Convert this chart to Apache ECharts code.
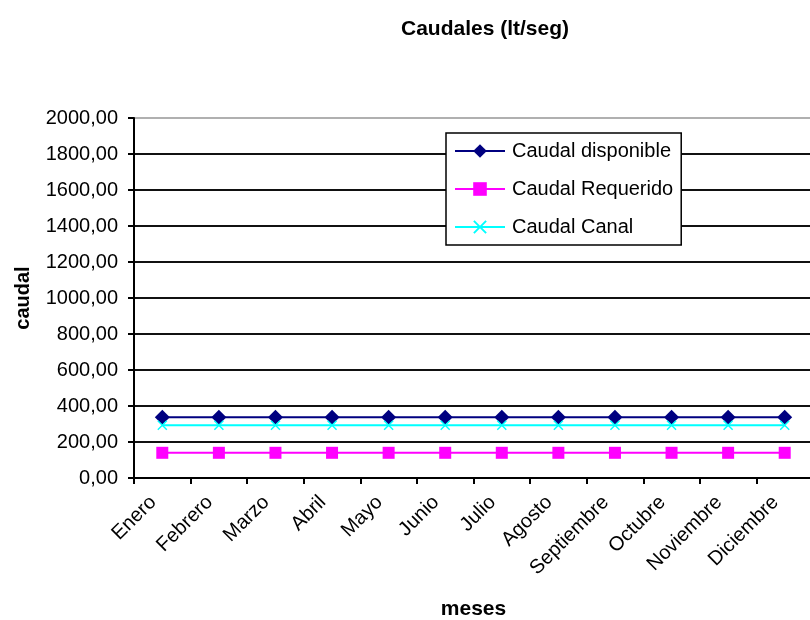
<!DOCTYPE html>
<html>
<head>
<meta charset="utf-8">
<script src="https://cdn.jsdelivr.net/npm/echarts@6/dist/echarts.min.js"></script>
<style>
  html, body { margin: 0; padding: 0; background: #fff; }
  #chart { width: 810px; height: 620px; }
</style>
</head>
<body>
<div id="chart"></div>
<script>
// Months on the category axis
const meses = ['Enero', 'Febrero', 'Marzo', 'Abril', 'Mayo', 'Junio', 'Julio',
  'Agosto', 'Septiembre', 'Octubre', 'Noviembre', 'Diciembre'];

// Flow values (lt/seg) per month
const caudalDisponible = [338, 338, 338, 338, 338, 338, 338, 338, 338, 338, 338, 338];
const caudalRequerido = [140, 140, 140, 140, 140, 140, 140, 140, 140, 140, 140, 140];
const caudalCanal = [293, 293, 293, 293, 293, 293, 293, 293, 293, 293, 293, 293];

// Value axis range
const yMin = 0;
const yMax = 2000;
const yStep = 200;

const FONT = '"Liberation Sans", Arial, sans-serif';
const crossSymbol = 'path://M0,1 L1,0 L5,4 L9,0 L10,1 L6,5 L10,9 L9,10 L5,6 L1,10 L0,9 L4,5 Z';

// one colour per horizontal grid line; the top border is a light grey line
const gridColors = [];
for (let v = yMin; v <= yMax; v += yStep) gridColors.push(v === yMax ? '#b0b0b0' : '#111');

const fmt = v => v.toFixed(2).replace('.', ',');

const chart = echarts.init(document.getElementById('chart'), null, { renderer: 'canvas' });
chart.setOption({
  backgroundColor: '#fff',
  animation: false,
  title: {
    text: 'Caudales (lt/seg)',
    left: 480,
    textAlign: 'center',
    top: 14,
    textStyle: { fontFamily: FONT, fontSize: 21, fontWeight: 'bold', color: '#000' }
  },
  legend: {
    orient: 'vertical',
    left: 446,
    top: 133,
    backgroundColor: '#fff',
    borderColor: '#000',
    borderWidth: 1.5,
    padding: [8, 8, 8, 8],
    itemWidth: 50,
    itemHeight: 17,
    itemGap: 18,
    textStyle: { fontFamily: FONT, fontSize: 20, color: '#000', padding: [0, 0, 0, 2] },
    data: ['Caudal disponible', 'Caudal Requerido', 'Caudal Canal']
  },
  grid: {
    left: 134, right: -3, top: 118, bottom: 142,
    containLabel: false,
    outerBoundsMode: 'none'
  },
  xAxis: {
    type: 'category',
    data: meses,
    boundaryGap: true,
    name: 'meses',
    nameLocation: 'middle',
    nameGap: 121,
    nameTextStyle: { fontFamily: FONT, fontSize: 21, fontWeight: 'bold', color: '#000' },
    axisLine: { lineStyle: { color: '#000', width: 2 } },
    axisTick: { show: true, alignWithLabel: false, length: 6, lineStyle: { color: '#000', width: 2 } },
    axisLabel: {
      rotate: 45, margin: 12, padding: [0, 13, 0, 0],
      fontFamily: FONT, fontSize: 20, color: '#000', interval: 0
    },
    splitLine: { show: false }
  },
  yAxis: {
    type: 'value',
    min: yMin,
    max: yMax,
    interval: yStep,
    name: 'caudal',
    nameLocation: 'middle',
    nameGap: 101,
    nameRotate: 90,
    nameTextStyle: { fontFamily: FONT, fontSize: 20, fontWeight: 'bold', color: '#000' },
    axisLine: { show: true, lineStyle: { color: '#000', width: 2 } },
    axisTick: { show: true, length: 6, lineStyle: { color: '#000', width: 2 } },
    axisLabel: { formatter: fmt, margin: 16, fontFamily: FONT, fontSize: 20, color: '#000' },
    splitLine: { show: true, lineStyle: { color: gridColors, width: 2 } }
  },
  series: [
    {
      name: 'Caudal disponible',
      type: 'line',
      data: caudalDisponible,
      symbol: 'diamond',
      symbolSize: 15,
      itemStyle: { color: '#000080' },
      lineStyle: { color: '#000080', width: 2 }
    },
    {
      name: 'Caudal Requerido',
      type: 'line',
      data: caudalRequerido,
      symbol: 'rect',
      symbolSize: 12,
      itemStyle: { color: '#ff00ff' },
      lineStyle: { color: '#ff00ff', width: 2 }
    },
    {
      name: 'Caudal Canal',
      type: 'line',
      data: caudalCanal,
      symbol: crossSymbol,
      symbolSize: 10,
      itemStyle: { color: '#00ffff' },
      lineStyle: { color: '#00ffff', width: 2 }
    }
  ]
});
</script>
</body>
</html>
